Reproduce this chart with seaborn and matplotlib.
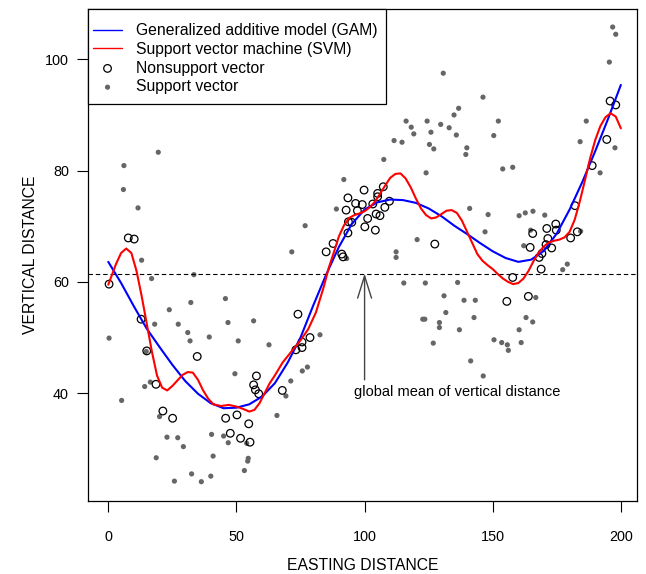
import matplotlib
matplotlib.use('Agg')
import matplotlib.pyplot as plt
from matplotlib.patches import Rectangle
import seaborn as sns
import pandas as pd

# ─────────────────────────────────────────
# Data
# ─────────────────────────────────────────
# non-support vectors (open circles)
ns_x = [0.3, 7.8, 10.1, 12.8, 15.0, 34.7, 18.6, 21.3, 25.1, 45.8, 50.2, 47.6, 51.6,
        54.8, 55.3, 57.8, 56.7, 57.4, 58.7, 67.9, 74.0, 73.2, 75.6, 75.6, 78.7,
        85.0, 87.7, 91.1, 91.6,
        99.8, 107.3, 105.1, 105.1, 93.5, 96.5, 99.1, 103.2, 109.7, 107.9, 92.8, 97.2,
        106.0, 104.5, 101.2, 93.7, 95.0, 100.1, 104.2, 93.5,
        127.4, 157.8, 155.5, 163.9, 168.9, 168.1, 169.2, 164.6, 165.6, 171.1, 174.6,
        174.8, 171.5, 170.8, 173.0, 180.4, 183.0, 182.1, 188.8, 194.5, 195.8, 198.0]
ns_y = [59.6, 67.9, 67.7, 53.3, 47.6, 46.6, 41.6, 36.8, 35.5, 35.5, 36.1, 32.8, 31.9,
        34.5, 31.2, 43.1, 41.5, 40.6, 39.9, 40.5, 54.2, 47.8, 48.2, 49.2, 50.0,
        65.4, 66.9, 65.0, 64.5,
        76.5, 77.1, 75.9, 75.3, 75.1, 74.1, 73.9, 74.0, 74.5, 73.4, 72.9, 72.8,
        71.9, 72.2, 71.4, 70.8, 70.7, 69.9, 69.3, 68.8,
        66.8, 60.8, 56.5, 57.4, 62.3, 64.4, 65.1, 66.2, 68.7, 69.6, 70.4,
        69.3, 67.8, 66.7, 66.1, 67.9, 69.0, 73.7, 80.9, 85.6, 92.5, 91.8]

# support vectors (filled gray dots)
sv_x = [19.5, 6.1, 5.9, 11.6, 13.0, 16.9, 33.4, 45.7, 32.2, 23.8, 18.1, 27.3, 46.7,
        0.3, 31.0, 31.9, 39.4, 50.7, 14.8, 49.4, 14.2, 16.4, 5.2, 20.0, 22.9, 27.1,
        29.3, 40.3, 45.0, 46.8, 18.7, 40.9, 32.5, 25.8, 36.3, 40.0,
        71.6, 56.7, 62.7, 82.6, 77.7, 75.7, 71.2, 69.3, 65.8, 54.0, 54.6, 54.4, 53.1, 76.8,
        130.7, 116.2, 118.2, 119.2, 124.4, 125.9, 129.7, 133.0, 111.5, 114.6, 125.3,
        127.0, 107.5, 124.0, 91.9, 89.0, 120.5, 112.3, 112.3, 93.0, 115.3, 123.7,
        131.0, 131.7, 122.7, 123.5, 129.2, 129.2, 126.8,
        146.2, 136.7, 134.9, 135.8, 152.2, 150.4, 139.9, 139.5, 153.9, 157.8, 141.0,
        148.2, 147.0, 160.3, 162.7, 165.7, 170.3, 162.1, 164.8, 184.3, 191.9, 184.1,
        186.5, 197.7, 195.5, 196.8, 198.0,
        177.3, 179.1, 136.3, 138.8, 143.2, 142.7, 166.8, 163.0, 165.6, 137.0, 160.3,
        150.5, 153.5, 155.7, 156.1, 161.1, 141.4, 146.3]
sv_y = [83.3, 80.9, 76.6, 73.3, 63.9, 60.6, 61.3, 57.0, 56.3, 55.0, 52.4, 52.4, 52.7,
        49.9, 50.9, 49.4, 50.1, 49.4, 47.5, 43.5, 41.2, 42.0, 38.7, 35.8, 32.1, 32.0,
        30.4, 32.6, 32.3, 31.1, 28.4, 28.7, 25.5, 24.2, 24.1, 25.1,
        65.4, 53.0, 48.7, 50.5, 44.7, 44.0, 42.2, 39.5, 36.0, 31.0, 28.3, 27.8, 26.1, 70.1,
        97.5, 88.9, 87.8, 86.6, 88.9, 86.9, 88.3, 87.7, 85.4, 85.1, 84.7,
        83.9, 82.0, 79.6, 78.4, 73.1, 67.6, 65.4, 64.4, 64.2, 59.8, 59.8,
        57.5, 54.5, 53.3, 53.3, 52.7, 51.8, 49.0,
        93.2, 91.2, 90.0, 86.4, 88.9, 86.3, 84.1, 82.9, 80.3, 80.6, 73.2,
        72.1, 69.0, 71.9, 72.4, 72.7, 72.0, 66.5, 69.3, 69.1, 79.6, 85.2,
        88.9, 84.1, 99.5, 105.8, 104.5,
        62.2, 63.2, 59.9, 56.7, 56.7, 53.6, 57.2, 53.6, 52.8, 51.4, 51.4,
        49.6, 49.1, 48.7, 47.7, 49.1, 45.8, 43.1]

# GAM fit
gam_x = [0, 5, 10, 15, 20, 25, 30, 35, 40, 45, 50, 55, 60, 65, 70, 75, 80, 85, 90,
         95, 100, 105, 110, 115, 120, 125, 130, 135, 140, 145, 150, 155, 160, 165,
         170, 175, 180, 185, 190, 195, 200]
gam_y = [63.6, 59.8, 55.6, 51.6, 48.3, 45.1, 42.2, 39.9, 38.2, 37.3, 37.4, 38.0,
         39.4, 41.8, 45.5, 50.0, 55.8, 61.3, 66.3, 70.4, 73.0, 74.3, 74.8, 74.7,
         74.2, 73.2, 71.8, 70.1, 68.6, 67.0, 65.5, 64.3, 63.6, 64.0, 65.6, 68.7,
         73.0, 78.0, 83.5, 89.3, 95.4]

# SVM fit
svm_x = [0, 3, 5, 7, 9, 11, 13, 15, 17, 19, 21, 23, 25, 27, 29, 31, 33, 35, 37, 39,
         41, 44, 47, 50, 53, 55, 57, 59, 61, 63, 65, 68, 72, 75, 78, 81, 84, 86, 88,
         90, 92, 94, 96, 98, 100, 102, 104, 106, 108, 110, 112, 114, 116, 118, 120,
         122, 124, 126, 128, 130, 132, 134, 136, 138, 140, 142, 144, 146, 148, 150,
         152, 154, 156, 158, 160, 162, 164, 166, 168, 170, 172, 174, 176, 178, 180,
         182, 184, 186, 188, 190, 192, 194, 196, 198, 200]
svm_y = [59.5, 63.2, 65.2, 66.0, 65.2, 62.0, 57.5, 52.5, 47.5, 43.2, 41.0, 40.5,
         41.3, 42.3, 43.3, 43.8, 43.7, 42.4, 40.5, 39.0, 38.0, 37.7, 37.9, 37.6,
         37.1, 36.7, 37.0, 38.2, 40.0, 41.8, 43.2, 45.5, 47.8, 49.5, 51.5, 54.5,
         59.0, 62.5, 65.3, 68.2, 70.2, 71.5, 72.0, 72.3, 72.7, 73.4, 74.4, 75.8,
         77.3, 78.7, 79.4, 79.5, 78.6, 77.0, 75.0, 73.2, 72.0, 71.4, 71.6, 72.2,
         72.8, 72.9, 72.4, 71.0, 69.0, 67.0, 65.0, 63.8, 63.0, 62.3, 61.4, 60.6,
         60.0, 59.6, 59.8, 60.6, 62.0, 63.8, 65.3, 66.4, 67.1, 67.4, 67.6, 68.0,
         69.0, 71.2, 74.5, 78.3, 82.2, 85.5, 88.0, 89.6, 90.3, 89.7, 87.6]

global_mean = 61.5
x_ticks = [0, 50, 100, 150, 200]
y_ticks = [40, 60, 80, 100]

# ─────────────────────────────────────────
# Style
# ─────────────────────────────────────────
sns.set_style("ticks")
plt.rcParams['font.family'] = ['Liberation Sans', 'DejaVu Sans']
plt.rcParams.update({'text.color': 'black', 'axes.labelcolor': 'black',
                     'xtick.color': 'black', 'ytick.color': 'black'})

fig = plt.figure(figsize=(6.46, 5.74), dpi=100)
ax = fig.add_axes([88.3 / 646, 1 - 501 / 574, (636.5 - 88.3) / 646, (501 - 9) / 574])

df_ns = pd.DataFrame({'x': ns_x, 'y': ns_y})
df_sv = pd.DataFrame({'x': sv_x, 'y': sv_y})

sns.scatterplot(data=df_sv, x='x', y='y', ax=ax, color='#666666', s=14,
                edgecolor='none', label='Support vector')
sns.scatterplot(data=df_ns, x='x', y='y', ax=ax, facecolor='none', edgecolor='black',
                s=30, linewidth=0.9, label='Nonsupport vector')

ax.axhline(global_mean, color='black', lw=0.8, dashes=(4, 2.6))

sns.lineplot(x=gam_x, y=gam_y, ax=ax, color='blue', lw=1.5, sort=False,
             label='Generalized additive model (GAM)')
sns.lineplot(x=svm_x, y=svm_y, ax=ax, color='red', lw=1.5, sort=False,
             label='Support vector machine (SVM)')

ax.annotate('', xy=(100, global_mean), xytext=(100, 42.4),
            arrowprops=dict(arrowstyle='->,head_length=1.6,head_width=0.5',
                            color='#444444', lw=1, mutation_scale=10,
                            shrinkA=0, shrinkB=0))
ax.text(136, 40.3, 'global mean of vertical distance', ha='center', va='center',
        fontsize=10.5)

ax.set_xlim(-7.8, 206.1)
ax.set_ylim(20.63, 109.04)
ax.set_xticks(x_ticks)
ax.set_yticks(y_ticks)
ax.set_xlabel('EASTING DISTANCE', fontsize=11.3, labelpad=10)
ax.set_ylabel('VERTICAL DISTANCE', fontsize=11.3, labelpad=5)
ax.tick_params(axis='x', length=8, width=0.8, pad=13, labelsize=10.4)
ax.tick_params(axis='y', length=8, width=0.8, pad=6, labelsize=10.4)
for sp in ax.spines.values():
    sp.set_linewidth(0.9)
    sp.set_color('black')

# legend box (R style, square, opaque) and entries in R order
ax.add_patch(Rectangle((0, 1 - (104 - 9) / 492), (386 - 88.3) / 548.2, (104 - 9) / 492,
                       transform=ax.transAxes, facecolor='white', edgecolor='black',
                       lw=0.9, zorder=4, clip_on=False))
handles, labels = ax.get_legend_handles_labels()
order = ['Generalized additive model (GAM)', 'Support vector machine (SVM)',
         'Nonsupport vector', 'Support vector']
hmap = dict(zip(labels, handles))
leg = ax.legend([hmap[k] for k in order], order, loc='upper left',
                bbox_to_anchor=(0.0086, 1 - (23 - 9) / 492), borderaxespad=0,
                frameon=False, fontsize=11.3, handlelength=1.85, handletextpad=0.9,
                labelspacing=0.24, borderpad=0)
leg.set_zorder(5)
for h in leg.legend_handles[:2]:
    h.set_linewidth(1.0)

plt.savefig('out.png', dpi=100)
